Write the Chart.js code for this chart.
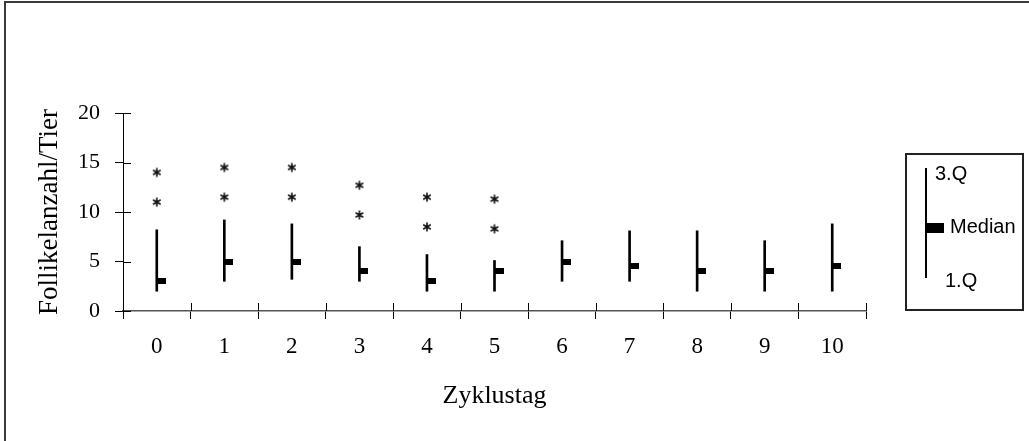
<!DOCTYPE html>
<html>
<head>
<meta charset="utf-8">
<script src="https://cdn.jsdelivr.net/npm/chart.js@4/dist/chart.umd.min.js"></script>
<style>
  body { margin: 0; background: #fff; }
  #wrap { position: relative; width: 1029px; height: 441px; overflow: hidden; }
  #frame { position: absolute; left: 4px; top: 1px; right: -10px; bottom: -10px;
           border-left: 2px solid #3a3a3a; border-top: 2px solid #3a3a3a; }
  #legendBox { position: absolute; left: 905px; top: 153px; width: 115px; height: 154px;
               border: 2px solid #222; font-family: 'Liberation Sans', Arial, sans-serif;
               font-size: 20px; color: #000; }
  #legendBox .line { position: absolute; left: 18px; top: 13px; width: 2px; height: 110px; background: #000; }
  #legendBox .med { position: absolute; left: 20px; top: 68px; width: 17px; height: 10px; background: #000; }
  #legendBox span { position: absolute; line-height: 1; white-space: nowrap; }
</style>
</head>
<body>
<div id="wrap">
  <canvas id="myChart" width="1029" height="441"></canvas>
  <div id="frame"></div>
  <div id="legendBox">
    <div class="line"></div>
    <div class="med"></div>
    <span style="left:28px; top:8px;">3.Q</span>
    <span style="left:43px; top:61px;">Median</span>
    <span style="left:38px; top:115px;">1.Q</span>
  </div>
</div>
<script>
const days = ['0', '1', '2', '3', '4', '5', '6', '7', '8', '9', '10'];
const q1 = [2, 3, 3.2, 3, 2, 2, 3, 3, 2, 2, 2];
const q3 = [8.2, 9.2, 8.8, 6.5, 5.7, 5.1, 7.1, 8.1, 8.1, 7.1, 8.8];
const median = [3, 5, 5, 4, 3, 4, 5, 4.5, 4, 4, 4.5];
const outlierHigh = [14, 14.5, 14.5, 12.7, 11.5, 11.3, null, null, null, null, null];
const outlierLow = [11, 11.5, 11.5, 9.7, 8.5, 8.3, null, null, null, null, null];
const yMin = 0, yMax = 20, yStep = 5;

// median mark: filled only on the right half so it sits beside the whisker
const medianMark = document.createElement('canvas');
medianMark.width = 18; medianMark.height = 6;
medianMark.getContext('2d').fillRect(9, 0, 9, 6);

// asterisk for the outliers
const starMark = document.createElement('canvas');
starMark.width = 12; starMark.height = 12;
(function () {
  const c = starMark.getContext('2d');
  c.strokeStyle = '#111';
  c.lineWidth = 1.6;
  c.beginPath();
  [90, 30, 150].forEach(a => {
    const r = a * Math.PI / 180, dx = Math.cos(r) * 4.4, dy = Math.sin(r) * 4.4;
    c.moveTo(6 - dx, 6 - dy); c.lineTo(6 + dx, 6 + dy);
  });
  c.stroke();
})();

// tick marks that cross the axes, like the original
const innerTicks = {
  id: 'innerTicks',
  afterDraw(chart) {
    const {ctx, scales: {x, y}} = chart;
    ctx.save();
    ctx.strokeStyle = '#000';
    ctx.lineWidth = 1;
    ctx.beginPath();
    y.ticks.forEach((t, i) => {
      const py = Math.round(y.getPixelForTick(i)) + 0.5;
      ctx.moveTo(y.right, py); ctx.lineTo(y.right + 8, py);
    });
    const half = (x.getPixelForValue(1) - x.getPixelForValue(0)) / 2;
    for (let i = 0; i <= days.length; i++) {
      const px = Math.round(x.getPixelForValue(i) - half) + 0.5;
      ctx.moveTo(px, x.top); ctx.lineTo(px, x.top - 8);
    }
    ctx.stroke();
    ctx.restore();
  }
};

Chart.defaults.font.family = "'Liberation Serif', 'Times New Roman', serif";
Chart.defaults.color = '#000';

const data = {
  labels: days,
  datasets: [
    {
      type: 'bar',
      label: 'Quartile',
      data: days.map((d, i) => [q1[i], q3[i]]),
      backgroundColor: '#000',
      borderWidth: 0,
      barThickness: 2
    },
    {
      type: 'line',
      label: 'Median',
      data: median,
      showLine: false,
      pointStyle: medianMark
    },
    {
      type: 'line',
      label: 'Ausreisser oben',
      data: outlierHigh,
      showLine: false,
      pointStyle: starMark
    },
    {
      type: 'line',
      label: 'Ausreisser unten',
      data: outlierLow,
      showLine: false,
      pointStyle: starMark
    }
  ]
};

const config = {
  type: 'bar',
  data: data,
  options: {
    responsive: false,
    animation: false,
    layout: { padding: { left: 0, top: 113, right: 163, bottom: 0 } },
    plugins: {
      legend: { display: false },
      tooltip: { enabled: false }
    },
    scales: {
      x: {
        offset: true,
        grid: { offset: true, drawOnChartArea: false, tickLength: 8, color: '#000' },
        border: { color: '#555', width: 1.5 },
        ticks: { font: { size: 23 }, padding: 14 },
        title: { display: true, text: 'Zyklustag', font: { size: 26 }, padding: { top: 0, bottom: 29 } },
        afterFit(scale) { scale.height = 130; }
      },
      y: {
        min: yMin,
        max: yMax,
        grid: { drawOnChartArea: false, tickLength: 8, color: '#000' },
        border: { color: '#000', width: 1 },
        ticks: { stepSize: yStep, font: { size: 22 }, padding: 15 },
        title: { display: true, text: 'Follikelanzahl/Tier', font: { size: 27 }, padding: { top: 34, bottom: 0 } },
        afterFit(scale) { scale.width = 123; }
      }
    }
  },
  plugins: [innerTicks]
};

new Chart(document.getElementById('myChart'), config);
</script>
</body>
</html>
